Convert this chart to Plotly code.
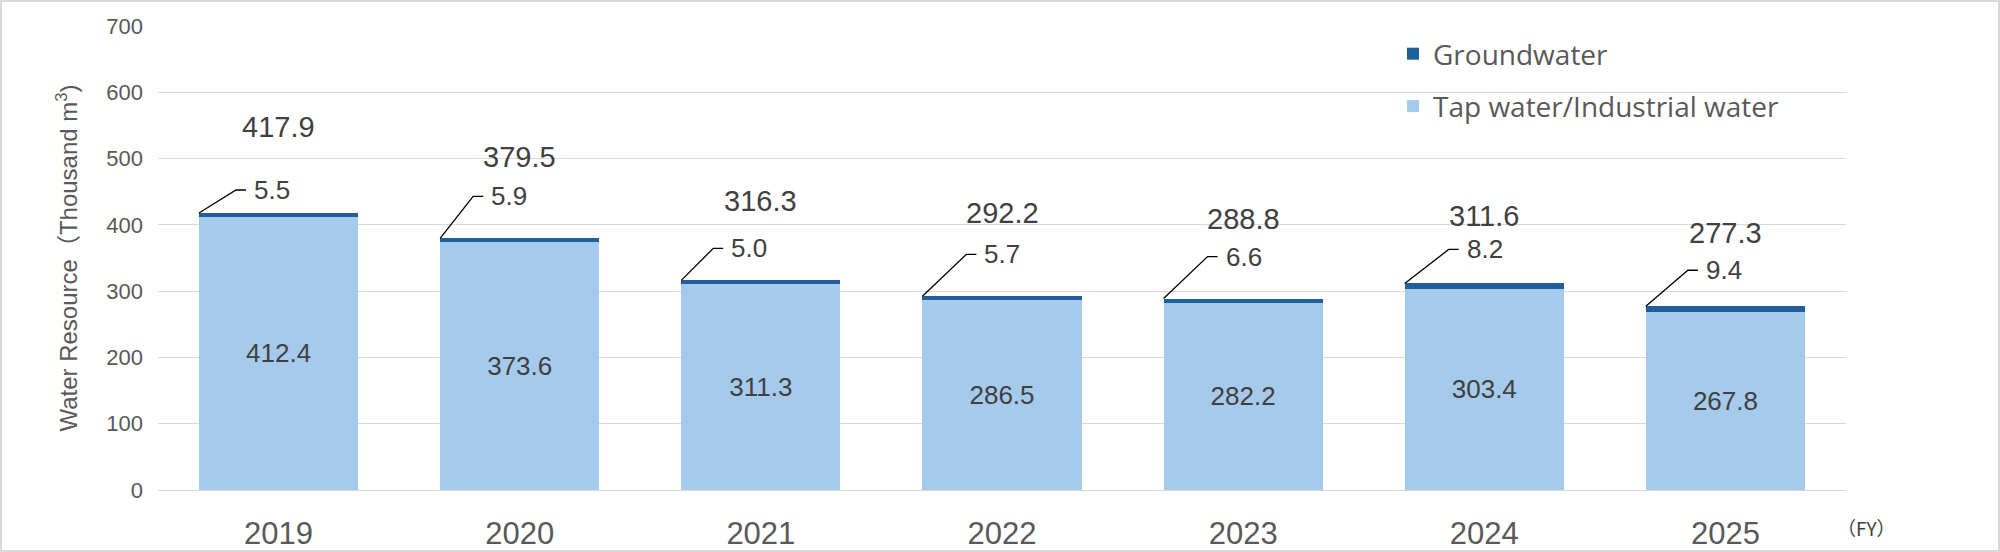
import plotly.graph_objects as go

# ---------------- data ----------------
years = ["2019", "2020", "2021", "2022", "2023", "2024", "2025"]
tap_water = [412.4, 373.6, 311.3, 286.5, 282.2, 303.4, 267.8]
groundwater = [5.5, 5.9, 5.0, 5.7, 6.6, 8.2, 9.4]
totals = [417.9, 379.5, 316.3, 292.2, 288.8, 311.6, 277.3]
y_ticks = [0, 100, 200, 300, 400, 500, 600, 700]

# ---------------- styles ----------------
W, H = 2000, 552
ML, MR, MT, MB = 158, 154, 26, 62
PLOT_W = W - ML - MR
PLOT_H = H - MT - MB
BAR_W = 0.66
FONT = "Liberation Sans, Arial, Noto Sans CJK JP, sans-serif"
TICK_COLOR = "#595959"
LABEL_COLOR = "#404040"
TAP_COLOR = "#A6CAEC"
GW_COLOR = "#215F9A"
GRID_COLOR = "#D9D9D9"
total_label_shift_px = [86, 81, 79, 83, 80, 67, 73]
leader_rise_px = [23, 42, 32, 42, 42, 34, 36]
leader_dx_px = [37, 33, 32, 44, 44, 44, 42]


def px_x(p):
    return (p - ML) / PLOT_W


def px_y(p):
    return (H - MB - p) / PLOT_H


fig = go.Figure()
fig.add_trace(go.Bar(
    x=years, y=tap_water, name="Tap water/Industrial water",
    marker=dict(color=TAP_COLOR, line=dict(width=0)), width=BAR_W,
    text=[f"{v:.1f}" for v in tap_water], textposition="inside",
    insidetextanchor="middle", textangle=0,
    insidetextfont=dict(family=FONT, size=26, color=LABEL_COLOR),
    legendgroup="tap", legendrank=2, hoverinfo="x+y",
))
fig.add_trace(go.Bar(
    x=years, y=groundwater, name="Groundwater",
    marker=dict(color=GW_COLOR, line=dict(width=0)), width=BAR_W,
    legendgroup="gw", legendrank=1, hoverinfo="x+y",
))

annotations = []
shapes = []
for i, yr in enumerate(years):
    top = tap_water[i] + groundwater[i]
    # total label
    annotations.append(dict(
        x=i, y=top, xref="x", yref="y", text=f"{totals[i]:.1f}",
        showarrow=False, yanchor="middle", xanchor="center",
        yshift=total_label_shift_px[i],
        font=dict(family=FONT, size=29, color=LABEL_COLOR),
    ))
    # groundwater label with elbow leader line
    left = i - BAR_W / 2
    rise = leader_rise_px[i]
    dx = leader_dx_px[i]
    annotations.append(dict(
        x=left, y=top, xref="x", yref="y", text=f"{groundwater[i]:.1f}",
        showarrow=False, xanchor="left", yanchor="middle",
        xshift=dx + 16, yshift=rise,
        font=dict(family=FONT, size=26, color=LABEL_COLOR),
    ))
    shapes.append(dict(
        type="path", xref="x", yref="y",
        xsizemode="pixel", ysizemode="pixel",
        xanchor=left, yanchor=top,
        path=f"M0,0L{dx},{rise}L{dx + 10},{rise}",
        line=dict(color="#000000", width=1.3),
    ))

annotations.append(dict(
    xref="paper", yref="paper", x=px_x(1866), y=px_y(527),
    text="（FY）", showarrow=False, xanchor="center", yanchor="middle",
    font=dict(family="Noto Sans CJK JP, sans-serif", size=19, color=LABEL_COLOR),
))

# outer frame
shapes.append(dict(
    type="rect", xref="paper", yref="paper",
    x0=px_x(1), x1=px_x(W - 1), y0=px_y(H - 1), y1=px_y(1),
    line=dict(color=GRID_COLOR, width=2), fillcolor="rgba(0,0,0,0)", layer="below",
))

fig.update_layout(
    width=W, height=H,
    margin=dict(l=ML, r=MR, t=MT, b=MB, pad=0, autoexpand=False),
    barmode="stack",
    plot_bgcolor="white", paper_bgcolor="white",
    font=dict(family=FONT, color=TICK_COLOR),
    showlegend=True,
    legend=dict(
        x=px_x(1393), y=px_y(29), xanchor="left", yanchor="top",
        traceorder="grouped", tracegroupgap=13,
        font=dict(family="Open Sans, sans-serif", size=28, color=TICK_COLOR),
        bgcolor="rgba(0,0,0,0)", borderwidth=0,
    ),
    xaxis=dict(
        type="category", categoryorder="array", categoryarray=years,
        range=[-0.5, len(years) - 0.5], automargin=False,
        showgrid=False, showline=False, zeroline=False, ticks="",
        tickfont=dict(family=FONT, size=31, color=TICK_COLOR),
        ticklabelstandoff=22,
    ),
    yaxis=dict(
        range=[0, 700], tickvals=y_ticks, automargin=False,
        showgrid=True, gridcolor=GRID_COLOR, gridwidth=1.3,
        zeroline=True, zerolinecolor=GRID_COLOR, zerolinewidth=1.3,
        showline=False, ticks="",
        tickfont=dict(family=FONT, size=22, color=TICK_COLOR),
        ticklabelstandoff=14,
        title=dict(
            text="Water Resource（Thousand m<sup>3</sup>)",
            font=dict(family=FONT, size=24, color=TICK_COLOR),
            standoff=21,
        ),
    ),
    annotations=annotations,
    shapes=shapes,
)

fig.write_html(
    "out.html",
    config={"displayModeBar": False},
    post_script="document.body.style.margin='0';document.body.style.padding='0';"
                "document.documentElement.style.overflow='hidden';",
)
